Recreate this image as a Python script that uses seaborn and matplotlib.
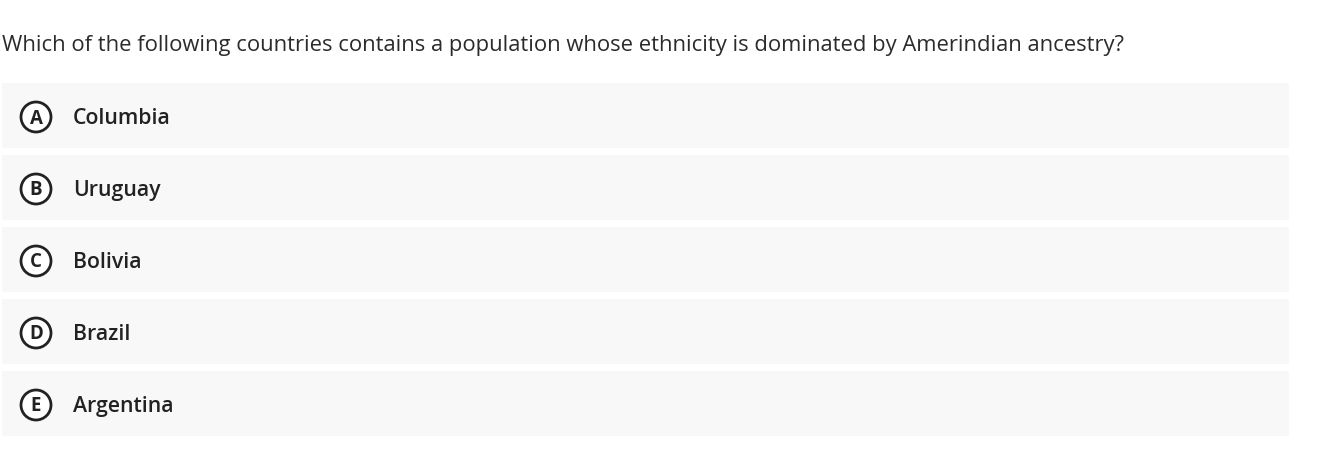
import matplotlib
matplotlib.use("Agg")
import matplotlib.pyplot as plt
import seaborn as sns
from matplotlib.patches import Circle

question = "Which of the following countries contains a population whose ethnicity is dominated by Amerindian ancestry?"
letters = ["A", "B", "C", "D", "E"]
options = ["Columbia", "Uruguay", "Bolivia", "Brazil", "Argentina"]

sns.set_style("white")
plt.rcParams['font.family'] = ['Open Sans', 'DejaVu Sans']

W, H = 1329, 452
fig = plt.figure(figsize=(W/100, H/100), dpi=100)
ax = fig.add_axes([0, 0, 1, 1])
ax.set_xlim(0, W)
ax.set_ylim(H, 0)
ax.axis("off")

ax.text(2, 46, question, fontsize=15.8, color="#2b2b2b", va="center", ha="left")

centers = [116.5 + 72*i for i in range(len(options))]
ax.barh(centers, [1287]*len(options), left=2, height=65, color="#f8f8f8", edgecolor="none")
for y, l, o in zip(centers, letters, options):
    ax.add_patch(Circle((36, y + 1.5), 15, facecolor="white", edgecolor="#222222", lw=2))
    ax.text(36, y + 2, l, fontsize=13.5, fontweight="bold", color="#222222", ha="center", va="center")
    ax.text(73, y + 2, o, fontsize=15.3, color="#222222", ha="left", va="center", fontweight="semibold")

fig.savefig("out.png", dpi=100, facecolor="white")
